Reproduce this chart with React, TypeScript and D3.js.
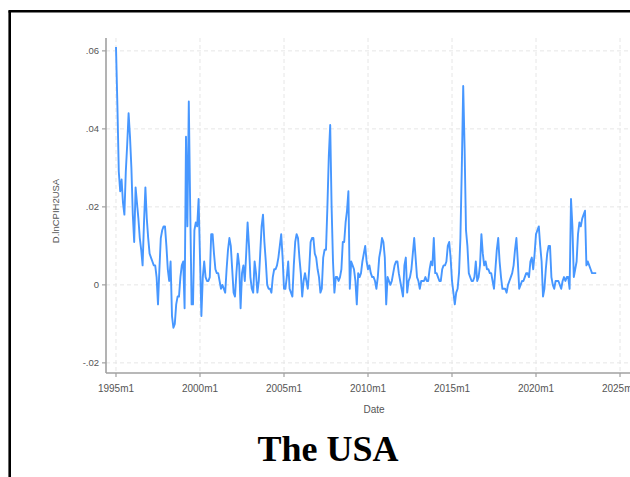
import React from "react";
import * as d3 from "d3";

// Monthly first difference of log CPI, starting 1995m1
const startYear = 1995;
const seriesValues: number[] = [
  0.061, 0.046, 0.029, 0.024, 0.027, 0.021, 0.018, 0.029, 0.036, 0.044, 0.038, 0.030,
  0.018, 0.011, 0.025, 0.021, 0.017, 0.012, 0.009, 0.005, 0.016, 0.025, 0.017, 0.012,
  0.008, 0.007, 0.006, 0.005, 0.005, 0.002, -0.005, 0.004, 0.012, 0.014, 0.015, 0.015,
  0.010, 0.004, 0.001, 0.006, -0.008, -0.011, -0.010, -0.005, -0.003, -0.003, 0.002, 0.005,
  0.006, -0.006, 0.038, 0.015, 0.047, 0.020, -0.005, -0.005, 0.014, 0.016, 0.015, 0.022,
  0.007, -0.008, 0.002, 0.006, 0.002, 0.001, 0.001, 0.002, 0.013, 0.013, 0.008, 0.004,
  0.003, 0.003, 0.001, -0.001, 0.000, -0.001, -0.002, 0.004, 0.009, 0.012, 0.010, 0.004,
  -0.002, -0.003, 0.003, 0.008, 0.005, -0.006, 0.003, 0.005, 0.001, 0.008, 0.016, 0.010,
  0.002, -0.001, -0.002, 0.006, 0.003, -0.002, 0.001, 0.008, 0.015, 0.018, 0.011, 0.006,
  0.000, -0.001, -0.001, -0.002, 0.002, 0.004, 0.004, 0.005, 0.007, 0.010, 0.013, 0.007,
  -0.001, -0.001, 0.002, 0.006, -0.001, -0.002, -0.003, 0.005, 0.011, 0.013, 0.012, 0.007,
  0.003, -0.003, 0.001, 0.003, 0.001, -0.001, 0.004, 0.011, 0.012, 0.012, 0.008, 0.007,
  0.004, 0.002, -0.002, -0.001, 0.007, 0.009, 0.009, 0.020, 0.033, 0.041, 0.020, 0.006,
  -0.002, 0.002, 0.002, 0.001, 0.002, 0.004, 0.011, 0.011, 0.016, 0.019, 0.024, -0.001,
  0.006, 0.005, 0.004, 0.001, -0.005, 0.003, 0.002, 0.003, 0.006, 0.008, 0.010, 0.006,
  0.004, 0.005, 0.003, 0.002, 0.002, 0.001, -0.001, 0.002, 0.007, 0.009, 0.012, 0.011,
  0.007, -0.005, 0.002, 0.001, 0.000, 0.001, 0.003, 0.005, 0.006, 0.006, 0.003, 0.001,
  -0.001, -0.003, 0.005, 0.007, -0.002, 0.001, 0.002, 0.004, 0.008, 0.012, 0.007, 0.002,
  0.001, -0.001, 0.001, 0.001, 0.001, 0.002, 0.001, 0.001, 0.004, 0.006, 0.005, 0.012,
  0.003, 0.003, 0.002, 0.001, 0.001, 0.004, 0.005, 0.005, 0.006, 0.010, 0.011, 0.007,
  0.001, -0.002, -0.005, -0.002, -0.001, 0.003, 0.012, 0.030, 0.051, 0.035, 0.014, 0.010,
  0.003, 0.002, 0.001, 0.001, 0.002, 0.006, 0.001, 0.002, 0.005, 0.013, 0.008, 0.005,
  0.006, 0.004, 0.004, 0.003, 0.003, 0.001, -0.001, 0.004, 0.009, 0.012, 0.006, 0.002,
  -0.001, -0.001, -0.001, -0.002, 0.000, 0.001, 0.002, 0.003, 0.005, 0.009, 0.012, 0.006,
  -0.001, 0.000, 0.001, 0.001, 0.002, 0.003, 0.003, 0.002, 0.006, 0.007, 0.004, 0.008,
  0.013, 0.014, 0.015, 0.010, 0.006, -0.003, -0.001, 0.004, 0.008, 0.010, 0.010, 0.002,
  0.000, -0.001, 0.001, 0.001, 0.001, 0.000, -0.001, 0.001, 0.002, 0.001, 0.002, 0.002,
  -0.001, 0.022, 0.015, 0.002, 0.004, 0.006, 0.013, 0.016, 0.015, 0.017, 0.018, 0.019,
  0.005, 0.006, 0.005, 0.004, 0.003, 0.003, 0.003, 0.003,
];

const yTicks = [-0.02, 0, 0.02, 0.04, 0.06];
const yTickLabels = ["-.02", "0", ".02", ".04", ".06"];
const xTicks = [1995, 2000, 2005, 2010, 2015, 2020, 2025];
const xTickLabels = ["1995m1", "2000m1", "2005m1", "2010m1", "2015m1", "2020m1", "2025m1"];

const W = 630;
const H = 477;

export default function App() {
  const plotLeft = 106;
  const plotTop = 38;
  const plotBottom = 373;
  const plotRight = 640;

  const x = d3.scaleLinear().domain([1994.405, 2026.19]).range([plotLeft, plotRight]);
  const y = d3.scaleLinear().domain([-0.0226, 0.0633]).range([plotBottom, plotTop]);

  const points = seriesValues.map((v, i) => ({ t: startYear + i / 12, v }));
  const line = d3
    .line<{ t: number; v: number }>()
    .x((d) => x(d.t))
    .y((d) => y(d.v));

  const axisColor = "#a0a0a0";
  const gridColor = "#e6e6e6";
  const textColor = "#555";
  const font = "'Liberation Sans', Arial, sans-serif";

  return (
    <svg
      width={W}
      height={H}
      style={{ position: "absolute", left: 0, top: 0, background: "#fff" }}
    >
      {/* frame */}
      <line x1={9.7} y1={11.3} x2={9.7} y2={H} stroke="#000" strokeWidth={2.6} />
      <line x1={8.4} y1={11.3} x2={W} y2={11.3} stroke="#000" strokeWidth={2.6} />

      {/* grid */}
      {yTicks.map((t) => (
        <line
          key={"gy" + t}
          x1={plotLeft}
          x2={plotRight}
          y1={y(t)}
          y2={y(t)}
          stroke={gridColor}
          strokeWidth={1}
          strokeDasharray="4,3"
        />
      ))}
      {xTicks.map((t) => (
        <line
          key={"gx" + t}
          x1={x(t)}
          x2={x(t)}
          y1={plotTop}
          y2={plotBottom}
          stroke={gridColor}
          strokeWidth={1}
          strokeDasharray="4,3"
        />
      ))}

      {/* series */}
      <path
        d={line(points) || ""}
        fill="none"
        stroke="#4797ff"
        strokeWidth={1.9}
        strokeLinejoin="round"
      />

      {/* axes */}
      <line x1={plotLeft} x2={plotLeft} y1={plotTop} y2={plotBottom} stroke={axisColor} strokeWidth={1.6} />
      <line x1={plotLeft} x2={plotRight} y1={plotBottom} y2={plotBottom} stroke={axisColor} strokeWidth={1.6} />

      {yTicks.map((t, i) => (
        <g key={"yt" + t}>
          <line x1={plotLeft - 4} x2={plotLeft} y1={y(t)} y2={y(t)} stroke={axisColor} strokeWidth={1.2} />
          <text
            x={plotLeft - 7}
            y={y(t)}
            dy="0.35em"
            textAnchor="end"
            fontFamily={font}
            fontSize={9.5}
            fill={textColor}
          >
            {yTickLabels[i]}
          </text>
        </g>
      ))}
      {xTicks.map((t, i) => (
        <g key={"xt" + t}>
          <line x1={x(t)} x2={x(t)} y1={plotBottom} y2={plotBottom + 4} stroke={axisColor} strokeWidth={1.2} />
          <text
            x={x(t)}
            y={392}
            textAnchor="middle"
            fontFamily={font}
            fontSize={10}
            fill={textColor}
          >
            {xTickLabels[i]}
          </text>
        </g>
      ))}

      {/* axis titles */}
      <text
        transform="translate(59,211) rotate(-90)"
        textAnchor="middle"
        fontFamily={font}
        fontSize={9.5}
        fill={textColor}
      >
        D.lnCPIH2USA
      </text>
      <text x={374} y={413} textAnchor="middle" fontFamily={font} fontSize={10} fill={textColor}>
        Date
      </text>

      {/* chart title */}
      <text
        x={328}
        y={461}
        textAnchor="middle"
        fontFamily="'Liberation Serif', 'Times New Roman', serif"
        fontWeight="bold"
        fontSize={36}
        fill="#000"
      >
        The USA
      </text>
    </svg>
  );
}
